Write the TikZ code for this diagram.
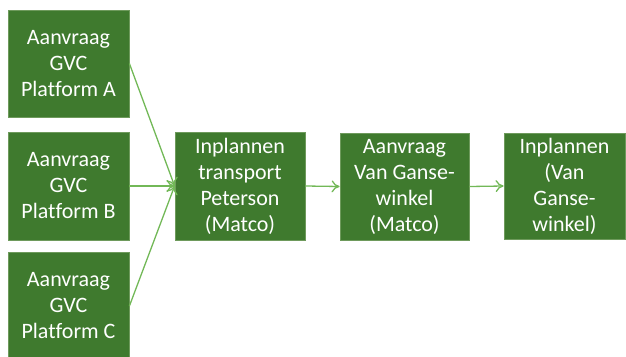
\documentclass[tikz,border=0pt]{standalone}
\usepackage{fontspec}
\setmainfont[Ligatures=NoCommon]{Carlito}
\usetikzlibrary{arrows.meta}
\definecolor{boxgreen}{HTML}{3F7A2E}
\definecolor{edgegreen}{HTML}{6E9A5C}
\definecolor{arrowgreen}{HTML}{72B857}
\tikzset{
  box/.style={fill=boxgreen, draw=edgegreen, line width=0.8pt, text=white,
    font=\fontsize{22}{26}\selectfont, align=center, inner sep=0pt},
  conn/.style={draw=arrowgreen, line width=1.3pt, -{To[length=8pt,width=12pt]}}
}
\begin{document}
\begin{tikzpicture}[x=1pt,y=-1pt]
\useasboundingbox (0,0) rectangle (626,356);
\node[box, minimum width=121pt, minimum height=107pt] (a) at (68.5,63.5) {Aanvraag\\GVC\\Platform A};
\node[box, minimum width=121pt, minimum height=108pt] (b) at (68.5,186) {Aanvraag\\GVC\\Platform B};
\node[box, minimum width=121pt, minimum height=108pt] (c) at (68.5,306) {Aanvraag\\GVC\\Platform C};
\node[box, minimum width=130pt, minimum height=108pt] (p) at (240,186) {Inplannen\\transport\\Peterson\\(Matco)};
\node[box, minimum width=129pt, minimum height=107pt] (v) at (404.5,186.5) {Aanvraag\\Van Ganse-\\winkel\\(Matco)};
\node[box, minimum width=121pt, minimum height=106pt] (i) at (564.5,186) {Inplannen\\(Van\\Ganse-\\winkel)};
\draw[conn] (a.east) -- (p.west);
\draw[conn] (b.east) -- (p.west);
\draw[conn] (c.east) -- (p.west);
\draw[conn] (p.east) -- (v.west);
\draw[conn] (v.east) -- (i.west);
\end{tikzpicture}
\end{document}
